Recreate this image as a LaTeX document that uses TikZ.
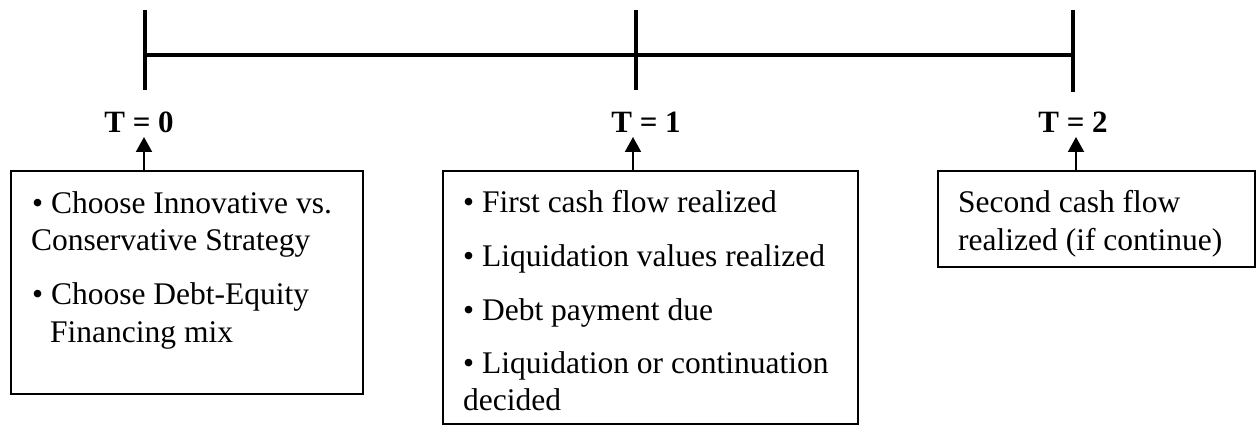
\documentclass[tikz,border=0pt]{standalone}
\usepackage{fontspec}
\setmainfont{Liberation Serif}
\usetikzlibrary{arrows.meta}
\begin{document}
\begin{tikzpicture}[x=1pt,y=-1pt,
  txt/.style={anchor=base west,inner sep=0pt,font=\fontsize{31.5}{38}\selectfont},
  lbl/.style={anchor=base,inner sep=0pt,font=\fontsize{31}{38}\selectfont\bfseries},
  box/.style={draw,line width=2pt,anchor=north west,inner sep=0pt},
  tl/.style={line width=4pt},
  arr/.style={line width=2pt,-{Triangle[width=16pt,length=15pt]}}]
\useasboundingbox (0,0) rectangle (1256,425);
% timeline
\coordinate (L0) at (145,55);
\coordinate (L1) at (636,55);
\coordinate (L2) at (1073,55);
\draw[tl] (L0) -- (L2);
\draw[tl] (145,10) -- (145,90);
\draw[tl] (636,10) -- (636,90);
\draw[tl] (1073,10) -- (1073,92);
% labels
\node[lbl] (t0) at (139,133) {T = 0};
\node[lbl] (t1) at (646,133) {T = 1};
\node[lbl] (t2) at (1073,133) {T = 2};
% boxes
\node[box,minimum width=352pt,minimum height=223pt] (b0) at (10,170) {};
\node[box,minimum width=415pt,minimum height=253pt] (b1) at (442,170) {};
\node[box,minimum width=317pt,minimum height=96pt] (b2) at (937,170) {};
% arrows
\coordinate (a0) at (144,170); \coordinate (h0) at (144,137);
\coordinate (a1) at (633,170); \coordinate (h1) at (633,137);
\coordinate (a2) at (1076,170); \coordinate (h2) at (1076,137);
\draw[arr] (a0) -- (h0);
\draw[arr] (a1) -- (h1);
\draw[arr] (a2) -- (h2);
% box texts
\node[txt] (p01) at (32,213) {• Choose Innovative vs.};
\node[txt] (p02) at (31,250) {Conservative Strategy};
\node[txt] (p03) at (32,304) {• Choose Debt-Equity};
\node[txt] (p04) at (50,342) {Financing mix};
\node[txt] (p11) at (463,212) {• First cash flow realized};
\node[txt] (p12) at (463,266) {• Liquidation values realized};
\node[txt] (p13) at (463,320) {• Debt payment due};
\node[txt] (p14) at (463,373) {• Liquidation or continuation};
\node[txt] (p15) at (463,410) {decided};
\node[txt] (p21) at (958,212) {Second cash flow};
\node[txt] (p22) at (958,250) {realized (if continue)};
\end{tikzpicture}
\end{document}
